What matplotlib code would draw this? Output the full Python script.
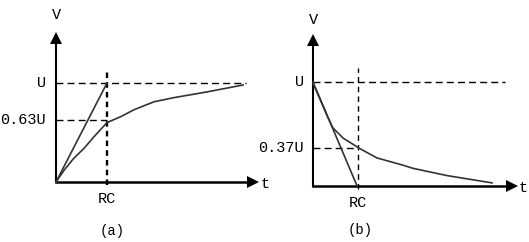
import matplotlib.pyplot as plt

# curve values (t in RC units, V in U units)
t_charge = [0, 0.16, 0.35, 0.55, 0.75, 1.0, 1.27, 1.53, 1.92, 2.29, 2.96, 3.67]
v_charge = [0, 0.12, 0.24, 0.34, 0.46, 0.60, 0.66, 0.73, 0.81, 0.85, 0.91, 0.98]

t_dis = [0, 0.16, 0.31, 0.44, 0.67, 1.04, 1.42, 2.0, 2.22, 2.98, 3.98]
v_dis = [0.99, 0.83, 0.68, 0.56, 0.46, 0.36, 0.27, 0.20, 0.17, 0.10, 0.03]

tan_a_t = [0, 1]
tan_a_v = [0, 1]
tan_b_t = [0, 0.98]
tan_b_v = [1, 0]

labels_a = ["U", "0.63U"]
levels_a = [1.0, 0.63]
labels_b = ["U", "0.37U"]
levels_b = [1.0, 0.37]

W, H = 529, 242
FONT = "Liberation Mono"

fig = plt.figure(figsize=(W / 100, H / 100), dpi=100)


def panel(ox, oy, sx, sy):
    # axes spanning the whole figure; origin at pixel (ox, oy), sx/sy px per unit
    ax = fig.add_axes([0, 0, 1, 1])
    ax.set_xlim(-ox / sx, (W - ox) / sx)
    ax.set_ylim(-(H - oy) / sy, oy / sy)
    ax.axis("off")
    ax.patch.set_alpha(0)
    return ax


def draw(ax, tmax, vmax, t, v, tt, tv, levels, labels, u_end, rc_top, rc_lw, tag, vlab, tlab):
    # axes with arrows
    ax.plot([0, tmax], [0, 0], color="black", lw=1.8, clip_on=False)
    ax.plot([0, 0], [0, vmax], color="black", lw=1.5, clip_on=False)
    ax.plot([tmax], [0], marker=">", color="black", ms=8, mew=0, clip_on=False)
    ax.plot([0], [vmax], marker="^", color="black", ms=8, mew=0, clip_on=False)
    # dashed guides
    ax.plot([0, u_end], [1, 1], color="black", lw=1, ls=(0, (5, 3)))
    ax.plot([0, 1], [levels[1], levels[1]], color="black", lw=1, ls=(0, (5, 3)))
    ax.plot([1, 1], [-0.03, rc_top], color="black", lw=rc_lw,
            ls=(0, (4 / rc_lw, 3 / rc_lw)))
    # curve and tangent
    ax.plot(t, v, color="#333333", lw=1.2)
    ax.plot(tt, tv, color="#333333", lw=1.2)
    for lv, lb in zip(levels, labels):
        ax.text(-0.2, lv, lb, family=FONT, fontsize=11, ha="right", va="center")
    ax.text(1, -0.1, "RC", family=FONT, fontsize=11, ha="center", va="top")
    ax.text(vlab[0], vlab[1], "V", family=FONT, fontsize=11, ha="center", va="center")
    ax.text(tlab[0], tlab[1], "t", family=FONT, fontsize=11, ha="center", va="center")
    ax.text(tag[0], tag[1], tag[2], family=FONT, fontsize=10, ha="center", va="center")


ax_a = panel(56, 182, 51, 99)
draw(ax_a, 3.86, 1.45, t_charge, v_charge, tan_a_t, tan_a_v, levels_a, labels_a,
     3.73, 1.12, 1.7, (1.1, -0.5, "(a)"), (0, 1.69), (4.1, -0.02))

ax_b = panel(313, 186, 45, 104)
draw(ax_b, 4.42, 1.40, t_dis, v_dis, tan_b_t, tan_b_v, levels_b, labels_b,
     4.27, 1.13, 1.0, (1.05, -0.42, "(b)"), (0, 1.6), (4.67, -0.02))

fig.savefig("out.png", dpi=100)
